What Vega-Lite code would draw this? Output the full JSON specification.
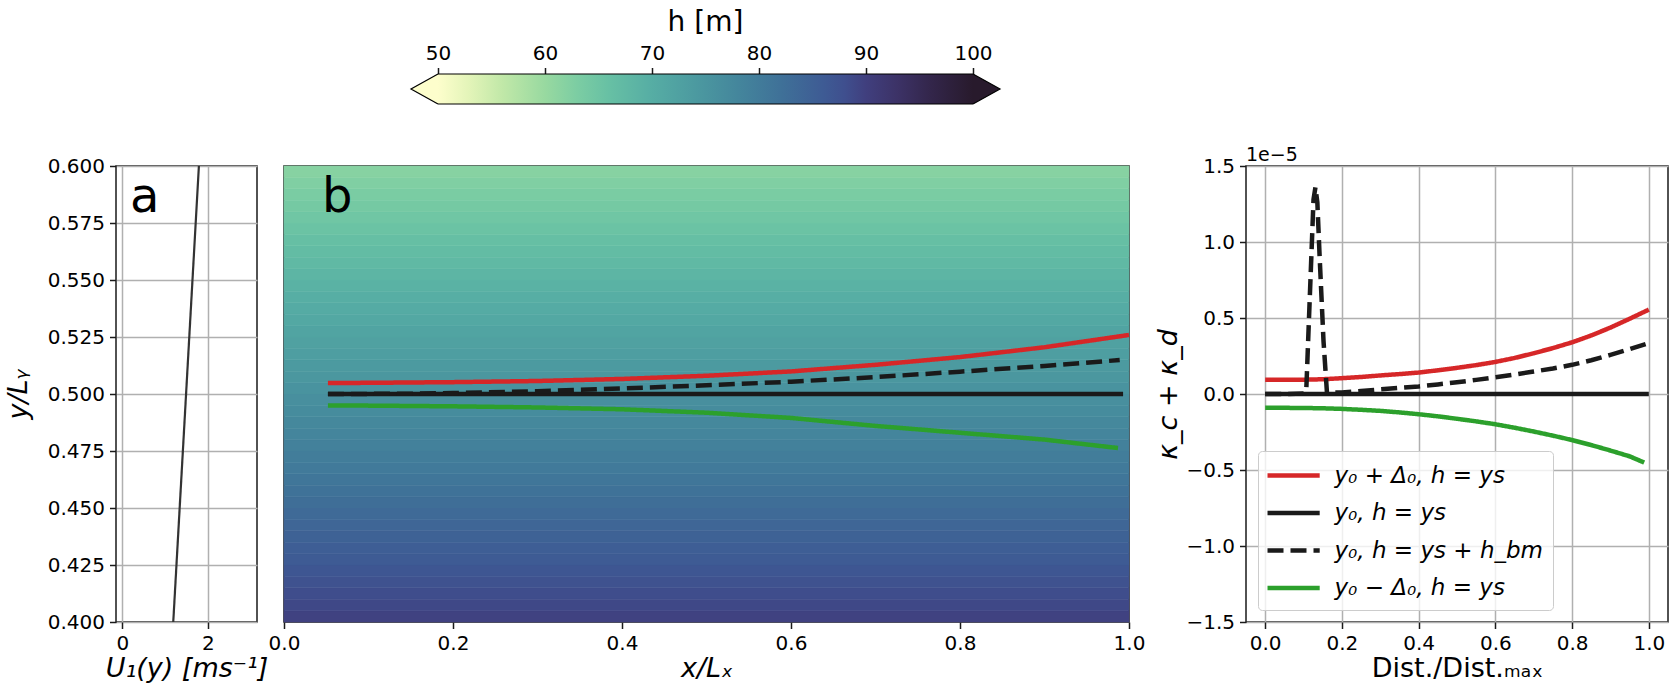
{
  "$schema": "https://vega.github.io/schema/vega-lite/v6.json",
  "background": "white",
  "padding": {"left": 3, "top": 9, "right": 5, "bottom": 5},
  "datasets": {
    "cbar": [{"lo": 50, "hi": 100}],
    "u1": [{"u": 1.19, "y": 0.4}, {"u": 1.49, "y": 0.5}, {"u": 1.79, "y": 0.6}],
    "bands": [
      {"y0": 0.400, "y1": 0.405, "h": 89.64}, {"y0": 0.405, "y1": 0.410, "h": 88.93},
      {"y0": 0.410, "y1": 0.415, "h": 88.22}, {"y0": 0.415, "y1": 0.420, "h": 87.51},
      {"y0": 0.420, "y1": 0.425, "h": 86.79}, {"y0": 0.425, "y1": 0.430, "h": 86.08},
      {"y0": 0.430, "y1": 0.435, "h": 85.37}, {"y0": 0.435, "y1": 0.440, "h": 84.66},
      {"y0": 0.440, "y1": 0.445, "h": 83.94}, {"y0": 0.445, "y1": 0.450, "h": 83.23},
      {"y0": 0.450, "y1": 0.455, "h": 82.52}, {"y0": 0.455, "y1": 0.460, "h": 81.81},
      {"y0": 0.460, "y1": 0.465, "h": 81.09}, {"y0": 0.465, "y1": 0.470, "h": 80.38},
      {"y0": 0.470, "y1": 0.475, "h": 79.67}, {"y0": 0.475, "y1": 0.480, "h": 78.96},
      {"y0": 0.480, "y1": 0.485, "h": 78.24}, {"y0": 0.485, "y1": 0.490, "h": 77.53},
      {"y0": 0.490, "y1": 0.495, "h": 76.82}, {"y0": 0.495, "y1": 0.500, "h": 76.11},
      {"y0": 0.500, "y1": 0.505, "h": 75.39}, {"y0": 0.505, "y1": 0.510, "h": 74.68},
      {"y0": 0.510, "y1": 0.515, "h": 73.97}, {"y0": 0.515, "y1": 0.520, "h": 73.26},
      {"y0": 0.520, "y1": 0.525, "h": 72.54}, {"y0": 0.525, "y1": 0.530, "h": 71.83},
      {"y0": 0.530, "y1": 0.535, "h": 71.12}, {"y0": 0.535, "y1": 0.540, "h": 70.41},
      {"y0": 0.540, "y1": 0.545, "h": 69.69}, {"y0": 0.545, "y1": 0.550, "h": 68.98},
      {"y0": 0.550, "y1": 0.555, "h": 68.27}, {"y0": 0.555, "y1": 0.560, "h": 67.56},
      {"y0": 0.560, "y1": 0.565, "h": 66.84}, {"y0": 0.565, "y1": 0.570, "h": 66.13},
      {"y0": 0.570, "y1": 0.575, "h": 65.42}, {"y0": 0.575, "y1": 0.580, "h": 64.71},
      {"y0": 0.580, "y1": 0.585, "h": 63.99}, {"y0": 0.585, "y1": 0.590, "h": 63.28},
      {"y0": 0.590, "y1": 0.595, "h": 62.57}, {"y0": 0.595, "y1": 0.600, "h": 61.86}
    ],
    "tracks": [
      {"series": "y₀ + Δ₀, h = ys", "x": 0.052, "y": 0.5048},
      {"series": "y₀ + Δ₀, h = ys", "x": 0.1, "y": 0.5049},
      {"series": "y₀ + Δ₀, h = ys", "x": 0.2, "y": 0.5052},
      {"series": "y₀ + Δ₀, h = ys", "x": 0.3, "y": 0.5057},
      {"series": "y₀ + Δ₀, h = ys", "x": 0.4, "y": 0.5066},
      {"series": "y₀ + Δ₀, h = ys", "x": 0.5, "y": 0.5080},
      {"series": "y₀ + Δ₀, h = ys", "x": 0.6, "y": 0.5099},
      {"series": "y₀ + Δ₀, h = ys", "x": 0.7, "y": 0.5128},
      {"series": "y₀ + Δ₀, h = ys", "x": 0.8, "y": 0.5162},
      {"series": "y₀ + Δ₀, h = ys", "x": 0.9, "y": 0.5205},
      {"series": "y₀ + Δ₀, h = ys", "x": 1.0, "y": 0.5259},
      {"series": "y₀, h = ys", "x": 0.052, "y": 0.5},
      {"series": "y₀, h = ys", "x": 0.993, "y": 0.5},
      {"series": "y₀, h = ys + h_bm", "x": 0.052, "y": 0.5},
      {"series": "y₀, h = ys + h_bm", "x": 0.15, "y": 0.5001},
      {"series": "y₀, h = ys + h_bm", "x": 0.2, "y": 0.5004},
      {"series": "y₀, h = ys + h_bm", "x": 0.3, "y": 0.5012},
      {"series": "y₀, h = ys + h_bm", "x": 0.4, "y": 0.5024},
      {"series": "y₀, h = ys + h_bm", "x": 0.5, "y": 0.5038},
      {"series": "y₀, h = ys + h_bm", "x": 0.6, "y": 0.5054},
      {"series": "y₀, h = ys + h_bm", "x": 0.7, "y": 0.5074},
      {"series": "y₀, h = ys + h_bm", "x": 0.8, "y": 0.5098},
      {"series": "y₀, h = ys + h_bm", "x": 0.9, "y": 0.5123},
      {"series": "y₀, h = ys + h_bm", "x": 0.989, "y": 0.5149},
      {"series": "y₀ − Δ₀, h = ys", "x": 0.052, "y": 0.4950},
      {"series": "y₀ − Δ₀, h = ys", "x": 0.1, "y": 0.4949},
      {"series": "y₀ − Δ₀, h = ys", "x": 0.2, "y": 0.4946},
      {"series": "y₀ − Δ₀, h = ys", "x": 0.3, "y": 0.4941},
      {"series": "y₀ − Δ₀, h = ys", "x": 0.4, "y": 0.4933},
      {"series": "y₀ − Δ₀, h = ys", "x": 0.5, "y": 0.4918},
      {"series": "y₀ − Δ₀, h = ys", "x": 0.6, "y": 0.4895},
      {"series": "y₀ − Δ₀, h = ys", "x": 0.7, "y": 0.4860},
      {"series": "y₀ − Δ₀, h = ys", "x": 0.8, "y": 0.4830},
      {"series": "y₀ − Δ₀, h = ys", "x": 0.9, "y": 0.4800},
      {"series": "y₀ − Δ₀, h = ys", "x": 0.987, "y": 0.4763}
    ],
    "kappa": [
      {"series": "y₀ + Δ₀, h = ys", "x": 0.0, "k": 0.093},
      {"series": "y₀ + Δ₀, h = ys", "x": 0.05, "k": 0.093},
      {"series": "y₀ + Δ₀, h = ys", "x": 0.1, "k": 0.094},
      {"series": "y₀ + Δ₀, h = ys", "x": 0.15, "k": 0.097},
      {"series": "y₀ + Δ₀, h = ys", "x": 0.2, "k": 0.104},
      {"series": "y₀ + Δ₀, h = ys", "x": 0.25, "k": 0.112},
      {"series": "y₀ + Δ₀, h = ys", "x": 0.3, "k": 0.122},
      {"series": "y₀ + Δ₀, h = ys", "x": 0.35, "k": 0.131},
      {"series": "y₀ + Δ₀, h = ys", "x": 0.4, "k": 0.141},
      {"series": "y₀ + Δ₀, h = ys", "x": 0.45, "k": 0.156},
      {"series": "y₀ + Δ₀, h = ys", "x": 0.5, "k": 0.172},
      {"series": "y₀ + Δ₀, h = ys", "x": 0.55, "k": 0.19},
      {"series": "y₀ + Δ₀, h = ys", "x": 0.6, "k": 0.211},
      {"series": "y₀ + Δ₀, h = ys", "x": 0.65, "k": 0.237},
      {"series": "y₀ + Δ₀, h = ys", "x": 0.7, "k": 0.268},
      {"series": "y₀ + Δ₀, h = ys", "x": 0.75, "k": 0.302},
      {"series": "y₀ + Δ₀, h = ys", "x": 0.8, "k": 0.34},
      {"series": "y₀ + Δ₀, h = ys", "x": 0.85, "k": 0.385},
      {"series": "y₀ + Δ₀, h = ys", "x": 0.9, "k": 0.437},
      {"series": "y₀ + Δ₀, h = ys", "x": 0.95, "k": 0.495},
      {"series": "y₀ + Δ₀, h = ys", "x": 1.0, "k": 0.555},
      {"series": "y₀, h = ys", "x": 0.0, "k": 0.0},
      {"series": "y₀, h = ys", "x": 1.0, "k": 0.0},
      {"series": "y₀, h = ys + h_bm", "x": 0.0, "k": 0.0},
      {"series": "y₀, h = ys + h_bm", "x": 0.05, "k": 0.0},
      {"series": "y₀, h = ys + h_bm", "x": 0.1, "k": 0.003},
      {"series": "y₀, h = ys + h_bm", "x": 0.107, "k": 0.02},
      {"series": "y₀, h = ys + h_bm", "x": 0.118, "k": 0.75},
      {"series": "y₀, h = ys + h_bm", "x": 0.126, "k": 1.28},
      {"series": "y₀, h = ys + h_bm", "x": 0.131, "k": 1.36},
      {"series": "y₀, h = ys + h_bm", "x": 0.136, "k": 1.26},
      {"series": "y₀, h = ys + h_bm", "x": 0.142, "k": 0.9},
      {"series": "y₀, h = ys + h_bm", "x": 0.152, "k": 0.35},
      {"series": "y₀, h = ys + h_bm", "x": 0.161, "k": 0.01},
      {"series": "y₀, h = ys + h_bm", "x": 0.2, "k": 0.01},
      {"series": "y₀, h = ys + h_bm", "x": 0.25, "k": 0.02},
      {"series": "y₀, h = ys + h_bm", "x": 0.3, "k": 0.03},
      {"series": "y₀, h = ys + h_bm", "x": 0.35, "k": 0.04},
      {"series": "y₀, h = ys + h_bm", "x": 0.4, "k": 0.05},
      {"series": "y₀, h = ys + h_bm", "x": 0.45, "k": 0.063},
      {"series": "y₀, h = ys + h_bm", "x": 0.5, "k": 0.077},
      {"series": "y₀, h = ys + h_bm", "x": 0.55, "k": 0.093},
      {"series": "y₀, h = ys + h_bm", "x": 0.6, "k": 0.11},
      {"series": "y₀, h = ys + h_bm", "x": 0.65, "k": 0.128},
      {"series": "y₀, h = ys + h_bm", "x": 0.7, "k": 0.148},
      {"series": "y₀, h = ys + h_bm", "x": 0.75, "k": 0.168},
      {"series": "y₀, h = ys + h_bm", "x": 0.8, "k": 0.192},
      {"series": "y₀, h = ys + h_bm", "x": 0.85, "k": 0.222},
      {"series": "y₀, h = ys + h_bm", "x": 0.9, "k": 0.257},
      {"series": "y₀, h = ys + h_bm", "x": 0.95, "k": 0.295},
      {"series": "y₀, h = ys + h_bm", "x": 1.0, "k": 0.335},
      {"series": "y₀ − Δ₀, h = ys", "x": 0.0, "k": -0.091},
      {"series": "y₀ − Δ₀, h = ys", "x": 0.05, "k": -0.091},
      {"series": "y₀ − Δ₀, h = ys", "x": 0.1, "k": -0.092},
      {"series": "y₀ − Δ₀, h = ys", "x": 0.15, "k": -0.094},
      {"series": "y₀ − Δ₀, h = ys", "x": 0.2, "k": -0.098},
      {"series": "y₀ − Δ₀, h = ys", "x": 0.25, "k": -0.104},
      {"series": "y₀ − Δ₀, h = ys", "x": 0.3, "k": -0.111},
      {"series": "y₀ − Δ₀, h = ys", "x": 0.35, "k": -0.121},
      {"series": "y₀ − Δ₀, h = ys", "x": 0.4, "k": -0.133},
      {"series": "y₀ − Δ₀, h = ys", "x": 0.45, "k": -0.147},
      {"series": "y₀ − Δ₀, h = ys", "x": 0.5, "k": -0.163},
      {"series": "y₀ − Δ₀, h = ys", "x": 0.55, "k": -0.18},
      {"series": "y₀ − Δ₀, h = ys", "x": 0.6, "k": -0.199},
      {"series": "y₀ − Δ₀, h = ys", "x": 0.65, "k": -0.222},
      {"series": "y₀ − Δ₀, h = ys", "x": 0.7, "k": -0.247},
      {"series": "y₀ − Δ₀, h = ys", "x": 0.75, "k": -0.274},
      {"series": "y₀ − Δ₀, h = ys", "x": 0.8, "k": -0.303},
      {"series": "y₀ − Δ₀, h = ys", "x": 0.85, "k": -0.336},
      {"series": "y₀ − Δ₀, h = ys", "x": 0.9, "k": -0.372},
      {"series": "y₀ − Δ₀, h = ys", "x": 0.95, "k": -0.41},
      {"series": "y₀ − Δ₀, h = ys", "x": 0.988, "k": -0.451}
    ]
  },
  "bounds": "flush",
  "spacing": 62,
  "vconcat": [
    {
      "width": 857,
      "height": 30,
      "view": {"stroke": null},
      "data": {"name": "cbar"},
      "layer": [
        {
          "mark": {"type": "rect", "color": {"gradient": "linear", "x1": 0, "y1": 0, "x2": 1, "y2": 0, "stops": [
            {"offset": 0.0, "color": "#fdfecc"}, {"offset": 0.06, "color": "#e2f4b8"},
            {"offset": 0.12, "color": "#c1e8a8"}, {"offset": 0.2, "color": "#98d9a0"},
            {"offset": 0.26, "color": "#7ccda3"}, {"offset": 0.32, "color": "#67c0a4"},
            {"offset": 0.4, "color": "#56ada4"}, {"offset": 0.48, "color": "#4c9aa0"},
            {"offset": 0.56, "color": "#44869c"}, {"offset": 0.64, "color": "#3f7198"},
            {"offset": 0.72, "color": "#3e5b94"}, {"offset": 0.76, "color": "#3f4f8e"},
            {"offset": 0.8, "color": "#403f7e"}, {"offset": 0.86, "color": "#3c3266"},
            {"offset": 0.92, "color": "#33264b"}, {"offset": 1.0, "color": "#281a2c"}]}},
          "encoding": {
            "x": {"field": "lo", "type": "quantitative", "scale": {"domain": [19.907, 100], "nice": false, "zero": false},
                  "axis": {"orient": "top", "values": [50, 60, 70, 80, 90, 100], "format": "d", "title": null, "grid": false, "labelPadding": 4}},
            "x2": {"field": "hi"},
            "y": {"datum": 0, "type": "quantitative", "scale": {"domain": [0, 1], "nice": false, "zero": false}, "axis": null},
            "y2": {"datum": 1}
          }
        },
        {
          "mark": {"type": "rule", "color": "#000000", "strokeWidth": 1.2},
          "encoding": {"x": {"field": "lo", "type": "quantitative"}, "x2": {"field": "hi"}, "y": {"datum": 0, "type": "quantitative"}}
        },
        {
          "mark": {"type": "rule", "color": "#000000", "strokeWidth": 1.2},
          "encoding": {"x": {"field": "lo", "type": "quantitative"}, "x2": {"field": "hi"}, "y": {"datum": 1, "type": "quantitative"}}
        },
        {
          "mark": {"type": "point", "shape": "M0,-1L-1.8,0L0,1", "size": 900, "filled": true, "fill": "#fdfecc", "stroke": "#000000", "strokeWidth": 1.2, "opacity": 1},
          "encoding": {"x": {"field": "lo", "type": "quantitative"}, "y": {"datum": 0.5, "type": "quantitative"}}
        },
        {
          "mark": {"type": "point", "shape": "M0,-1L1.8,0L0,1", "size": 900, "filled": true, "fill": "#281a2c", "stroke": "#000000", "strokeWidth": 1.2, "opacity": 1},
          "encoding": {"x": {"field": "hi", "type": "quantitative"}, "y": {"datum": 0.5, "type": "quantitative"}}
        },
        {
          "mark": {"type": "text", "text": "h [m]", "fontSize": 28, "dy": -43, "baseline": "alphabetic", "align": "center", "color": "#000000"},
          "encoding": {"x": {"datum": 75, "type": "quantitative"}, "y": {"datum": 1, "type": "quantitative"}}
        }
      ]
    },
    {
      "bounds": "flush",
      "spacing": 27,
      "resolve": {
        "scale": {"color": "independent", "strokeDash": "independent", "fill": "independent", "stroke": "independent"},
        "legend": {"color": "independent", "strokeDash": "independent"}
      },
      "hconcat": [
        {
          "width": 141,
          "height": 456,
          "layer": [
            {
              "data": {"name": "u1"},
              "mark": {"type": "line", "color": "#333333", "strokeWidth": 2.2},
              "encoding": {
                "x": {"field": "u", "type": "quantitative", "scale": {"domain": [-0.15, 3.15], "nice": false, "zero": false},
                      "axis": {"values": [0, 2], "format": "d", "grid": true, "title": "U₁(y) [ms⁻¹]", "titleFontStyle": "italic"}},
                "y": {"field": "y", "type": "quantitative", "scale": {"domain": [0.4, 0.6], "nice": false, "zero": false},
                      "axis": {"values": [0.4, 0.425, 0.45, 0.475, 0.5, 0.525, 0.55, 0.575, 0.6], "format": ".3f", "grid": true, "title": "y/Lᵧ", "titleFontStyle": "italic", "titlePadding": 15}}
              }
            },
            {
              "data": {"values": [{"t": "a"}]},
              "mark": {"type": "text", "fontSize": 48, "align": "left", "baseline": "alphabetic", "color": "#000000"},
              "encoding": {"x": {"datum": 0.18, "type": "quantitative"}, "y": {"datum": 0.58, "type": "quantitative"}, "text": {"field": "t"}}
            }
          ]
        },
        {
          "width": 845,
          "height": 456,
          "layer": [
            {
              "data": {"name": "bands"},
              "mark": {"type": "rect", "strokeWidth": 0.6},
              "encoding": {
                "x": {"datum": 0, "type": "quantitative", "scale": {"domain": [0, 1], "nice": false, "zero": false},
                      "axis": {"values": [0, 0.2, 0.4, 0.6, 0.8, 1], "format": ".1f", "grid": false, "title": "x/Lₓ", "titleFontStyle": "italic"}},
                "x2": {"datum": 1},
                "y": {"field": "y0", "type": "quantitative", "scale": {"domain": [0.4, 0.6], "nice": false, "zero": false}, "axis": null},
                "y2": {"field": "y1"},
                "fill": {"field": "h", "type": "quantitative", "legend": null, "scale": {"interpolate": "rgb",
                  "domain": [50, 53, 56, 60, 63, 66, 70, 74, 78, 82, 86, 88, 90, 93, 96, 100],
                  "range": ["#fdfecc", "#e2f4b8", "#c1e8a8", "#98d9a0", "#7ccda3", "#67c0a4", "#56ada4", "#4c9aa0", "#44869c", "#3f7198", "#3e5b94", "#3f4f8e", "#403f7e", "#3c3266", "#33264b", "#281a2c"]}},
                "stroke": {"field": "h", "type": "quantitative", "legend": null, "scale": {"interpolate": "rgb",
                  "domain": [50, 53, 56, 60, 63, 66, 70, 74, 78, 82, 86, 88, 90, 93, 96, 100],
                  "range": ["#fdfecc", "#e2f4b8", "#c1e8a8", "#98d9a0", "#7ccda3", "#67c0a4", "#56ada4", "#4c9aa0", "#44869c", "#3f7198", "#3e5b94", "#3f4f8e", "#403f7e", "#3c3266", "#33264b", "#281a2c"]}}
              }
            },
            {
              "data": {"name": "tracks"},
              "mark": {"type": "line", "strokeWidth": 4.5, "strokeCap": "butt"},
              "encoding": {
                "x": {"field": "x", "type": "quantitative"},
                "y": {"field": "y", "type": "quantitative"},
                "color": {"field": "series", "type": "nominal", "legend": null, "scale": {
                  "domain": ["y₀ + Δ₀, h = ys", "y₀, h = ys", "y₀, h = ys + h_bm", "y₀ − Δ₀, h = ys"],
                  "range": ["#d62728", "#1a1a1a", "#1a1a1a", "#2ca02c"]}},
                "strokeDash": {"field": "series", "type": "nominal", "legend": null, "scale": {
                  "domain": ["y₀ + Δ₀, h = ys", "y₀, h = ys", "y₀, h = ys + h_bm", "y₀ − Δ₀, h = ys"],
                  "range": [[1, 0], [1, 0], [16, 7], [1, 0]]}}
              }
            },
            {
              "data": {"values": [{"t": "b"}]},
              "mark": {"type": "text", "fontSize": 48, "align": "left", "baseline": "alphabetic", "color": "#000000"},
              "encoding": {"x": {"datum": 0.045, "type": "quantitative"}, "y": {"datum": 0.58, "type": "quantitative"}, "text": {"field": "t"}}
            }
          ]
        },
        {
          "width": 63,
          "height": 456,
          "view": {"stroke": null},
          "data": {"values": [{}]},
          "mark": {"type": "point", "opacity": 0},
          "encoding": {}
        },
        {
          "width": 422,
          "height": 456,
          "title": {"text": "1e−5", "anchor": "start", "frame": "group", "fontSize": 19, "fontWeight": "normal", "font": "DejaVu Sans", "offset": -9, "color": "#000000"},
          "data": {"name": "kappa"},
          "mark": {"type": "line", "strokeWidth": 4.5, "strokeCap": "butt"},
          "encoding": {
            "x": {"field": "x", "type": "quantitative", "scale": {"domain": [-0.05, 1.05], "nice": false, "zero": false},
                  "axis": {"values": [0, 0.2, 0.4, 0.6, 0.8, 1], "format": ".1f", "grid": true, "title": "Dist./Dist.ₘₐₓ"}},
            "y": {"field": "k", "type": "quantitative", "scale": {"domain": [-1.5, 1.5], "nice": false, "zero": false},
                  "axis": {"values": [-1.5, -1, -0.5, 0, 0.5, 1, 1.5], "format": ".1f", "grid": true, "title": "κ_c + κ_d", "titleFontStyle": "italic", "titlePadding": 3}},
            "color": {"field": "series", "type": "nominal",
              "scale": {"domain": ["y₀ + Δ₀, h = ys", "y₀, h = ys", "y₀, h = ys + h_bm", "y₀ − Δ₀, h = ys"],
                        "range": ["#d62728", "#1a1a1a", "#1a1a1a", "#2ca02c"]},
              "legend": {"title": null, "orient": "bottom-left", "offset": 12, "padding": 10, "fillColor": "rgba(255,255,255,0.8)", "strokeColor": "#cccccc", "cornerRadius": 4,
                         "labelFontSize": 23, "labelFontStyle": "italic", "labelFont": "DejaVu Sans", "labelColor": "#000000", "labelLimit": 400, "labelOffset": 37.5,
                         "symbolType": "M-1.25,0L3.1,0", "symbolSize": 576, "symbolStrokeWidth": 4.5, "rowPadding": 10.5}},
            "strokeDash": {"field": "series", "type": "nominal",
              "scale": {"domain": ["y₀ + Δ₀, h = ys", "y₀, h = ys", "y₀, h = ys + h_bm", "y₀ − Δ₀, h = ys"],
                        "range": [[1, 0], [1, 0], [16, 7], [1, 0]]},
              "legend": {"title": null, "orient": "bottom-left", "offset": 12, "padding": 10, "fillColor": "rgba(255,255,255,0.8)", "strokeColor": "#cccccc", "cornerRadius": 4,
                         "labelFontSize": 23, "labelFontStyle": "italic", "labelFont": "DejaVu Sans", "labelColor": "#000000", "labelLimit": 400, "labelOffset": 37.5,
                         "symbolType": "M-1.25,0L3.1,0", "symbolSize": 576, "symbolStrokeWidth": 4.5, "rowPadding": 10.5}}
          }
        }
      ]
    }
  ],
  "config": {
    "font": "DejaVu Sans",
    "view": {"stroke": "#1a1a1a", "strokeWidth": 1.5},
    "text": {"font": "DejaVu Sans"},
    "axis": {
      "labelFont": "DejaVu Sans", "labelFontSize": 20, "labelColor": "#000000",
      "titleFont": "DejaVu Sans", "titleFontSize": 27, "titleFontWeight": "normal", "titleColor": "#000000",
      "tickColor": "#1a1a1a", "tickSize": 6.5, "tickWidth": 1.5, "labelPadding": 5, "titlePadding": 7,
      "domain": false, "gridColor": "#b0b0b0", "gridWidth": 1.5, "labelFlush": false, "labelBound": false
    },
    "axisX": {"titlePadding": 2}
  }
}
